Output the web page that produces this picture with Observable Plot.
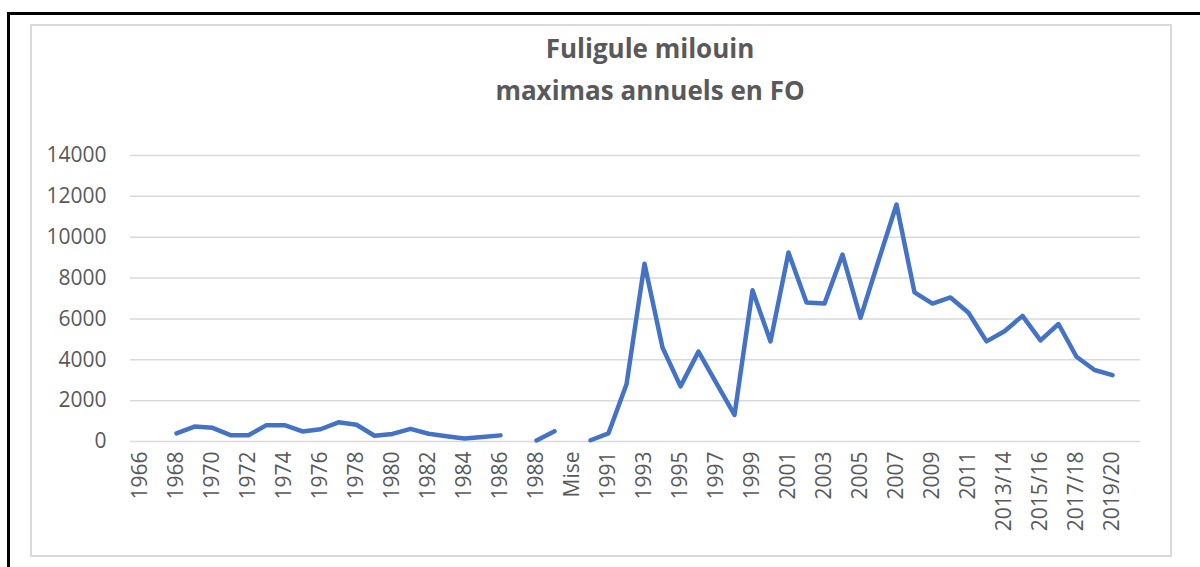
<!DOCTYPE html>
<html>
<head>
<meta charset="utf-8">
<script src="https://cdn.jsdelivr.net/npm/d3@7"></script>
<script src="https://cdn.jsdelivr.net/npm/@observablehq/plot@0.6"></script>
<style>
  body { margin: 0; background: #fff; }
  #wrap { position: relative; width: 1200px; height: 567px; overflow: hidden; background: #fff; }
  .blk { position: absolute; background: #000; }
  #inner { position: absolute; left: 30px; top: 24px; width: 1142px; height: 533px; border: 2px solid #d9d9d9; box-sizing: border-box; }
  #title { position: absolute; left: 350px; top: 27px; width: 600px; text-align: center; font-family: "Open Sans", sans-serif; font-weight: bold; font-size: 26px; line-height: 42px; color: #595959; }
  #chart { position: absolute; left: 0; top: 0; }
</style>
</head>
<body>
<div id="wrap">
  <div class="blk" style="left:7px;top:12px;width:1193px;height:3px"></div>
  <div class="blk" style="left:7px;top:12px;width:3px;height:555px"></div>
  <div id="inner"></div>
  <div id="chart"></div>
  <div id="title">Fuligule milouin<br>maximas annuels en FO</div>
</div>
<script>
const categories = [
  "1966","1967","1968","1969","1970","1971","1972","1973","1974","1975",
  "1976","1977","1978","1979","1980","1981","1982","1983","1984","1985",
  "1986","1987","1988","1989","Mise","1990","1991","1992","1993","1994",
  "1995","1996","1997","1998","1999","2000","2001","2002","2003","2004",
  "2005","2006","2007","2008","2009","2010","2011","2012","2013/14","2014/15",
  "2015/16","2016/17","2017/18","2018/19","2019/20","2020/21"
];
const values = [
  null, null, 400, 730, 670, 310, 310, 800, 800, 490,
  600, 940, 820, 280, 370, 620, 380, 260, 150, 220,
  300, null, 50, 500, null, 60, 400, 2800, 8700, 4600,
  2700, 4400, 2850, 1300, 7400, 4900, 9250, 6800, 6750, 9150,
  6050, 8850, 11600, 7300, 6750, 7050, 6300, 4900, 5400, 6150,
  4950, 5750, 4150, 3500, 3250, null
];
const xTickLabels = categories.filter((d, i) => i % 2 === 0);
const yTicks = [0, 2000, 4000, 6000, 8000, 10000, 12000, 14000];

const data = categories.map((c, i) => ({cat: c, value: values[i]}));

const chart = Plot.plot({
  width: 1200,
  height: 567,
  marginLeft: 130,
  marginRight: 60,
  marginTop: 155,
  marginBottom: 126,
  style: {fontFamily: "'Open Sans', sans-serif", fontSize: "21px", color: "#595959", background: "transparent", overflow: "visible"},
  x: {type: "point", domain: categories, padding: 0.5},
  y: {domain: [0, 14000]},
  marks: [
    Plot.ruleY(yTicks, {stroke: "#d9d9d9", strokeWidth: 1.5}),
    Plot.axisY({ticks: yTicks, tickSize: 0, tickPadding: 24, label: null, fontSize: 21, tickFormat: d => String(d)}),
    Plot.axisX({ticks: xTickLabels, tickSize: 0, tickPadding: 10, tickRotate: -90, label: null, fontSize: 21}),
    Plot.line(data, {x: "cat", y: "value", stroke: "#4472C4", strokeWidth: 4.5, strokeLinecap: "round", strokeLinejoin: "round"})
  ]
});
document.getElementById("chart").appendChild(chart);
</script>
</body>
</html>
